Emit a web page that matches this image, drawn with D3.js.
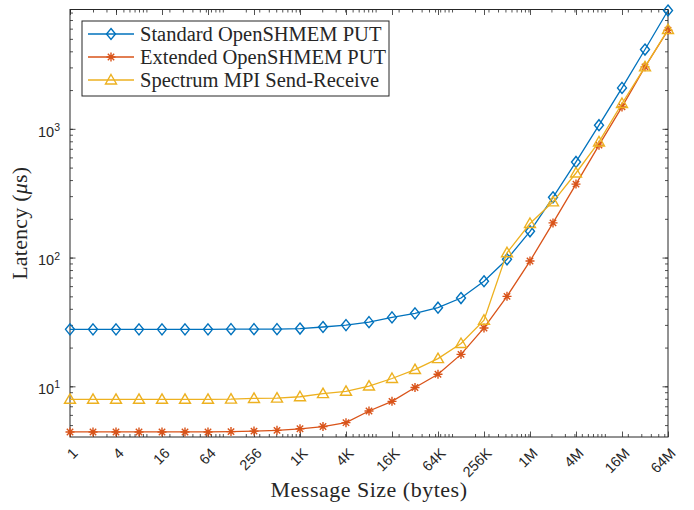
<!DOCTYPE html>
<html>
<head>
<meta charset="utf-8">
<script src="https://cdn.jsdelivr.net/npm/d3@7"></script>
<style>
  body { margin: 0; background: #fff; }
  .tick text { font-family: "Liberation Sans", Arial, sans-serif; font-size: 14.5px; fill: #262626; }
</style>
</head>
<body>
<div class="chart"></div>
<script>
  // Message sizes (bytes) and measured latencies (microseconds)
  const sizes = [1, 2, 4, 8, 16, 32, 64, 128, 256, 512, 1024, 2048, 4096, 8192, 16384,
    32768, 65536, 131072, 262144, 524288, 1048576, 2097152, 4194304, 8388608,
    16777216, 33554432, 67108864];
  const standardPut = [27.7, 27.7, 27.7, 27.7, 27.7, 27.7, 27.7, 27.8, 27.8, 27.8, 28.1,
    28.9, 29.9, 31.5, 34.3, 36.9, 40.8, 48.5, 65.5, 97, 160, 294, 553, 1067, 2080, 4130, 8300];
  const extendedPut = [4.42, 4.42, 4.42, 4.42, 4.42, 4.42, 4.42, 4.45, 4.49, 4.55, 4.68,
    4.87, 5.22, 6.43, 7.64, 9.8, 12.4, 17.7, 28.4, 50, 94, 186, 372, 747, 1480, 3030, 5830];
  const spectrumMpi = [7.93, 7.93, 7.93, 7.93, 7.93, 7.93, 7.93, 7.95, 8.05, 8.1, 8.3,
    8.77, 9.15, 10.05, 11.5, 13.5, 16.4, 21.5, 32.6, 109, 184, 271, 454, 791, 1573, 3030, 5900];
  const seriesNames = ['Standard OpenSHMEM PUT', 'Extended OpenSHMEM PUT', 'Spectrum MPI Send-Receive'];
  const seriesColors = ['#0072BD', '#D95319', '#EDB120'];
  const seriesMarkers = ['diamond', 'asterisk', 'triangle'];

  const xTickValues = [1, 4, 16, 64, 256, 1024, 4096, 16384, 65536, 262144, 1048576,
    4194304, 16777216, 67108864];
  const xTickLabels = ['1', '4', '16', '64', '256', '1K', '4K', '16K', '64K', '256K', '1M',
    '4M', '16M', '64M'];
  const yTickValues = [10, 100, 1000];
  const yTickExponents = ['1', '2', '3'];
  const yDomain = [4.04, 8450];

  const width = 694;
  const height = 510;
  const plot = {left: 70, right: 668, top: 9.5, bottom: 437};
  const axisColor = '#262626';
  const serifFont = '"Liberation Serif", "DejaVu Serif", serif';

  const svg = d3.select('.chart').append('svg')
      .attr('width', width)
      .attr('height', height);

  const x = d3.scaleLog().base(2)
      .domain([sizes[0], sizes[sizes.length - 1]])
      .range([plot.left, plot.right]);
  const y = d3.scaleLog()
      .domain(yDomain)
      .range([plot.bottom, plot.top]);

  // minor ticks sit on the base-10 grid like MATLAB does
  function minorTicks(lo, hi) {
    const out = [];
    for (let k = 0; k <= 8; k++) {
      for (let d = 1; d <= 9; d++) {
        const v = d * Math.pow(10, k);
        if (v >= lo && v <= hi) out.push(v);
      }
    }
    return out;
  }
  const xMinor = minorTicks(x.domain()[0], x.domain()[1]);
  const yMinor = minorTicks(y.domain()[0], y.domain()[1]);

  const major = 5.5;
  const minor = 3;

  function noDomain(g) { g.select('.domain').remove(); }

  // bottom + top
  svg.append('g').attr('transform', `translate(0,${plot.bottom})`)
      .call(d3.axisBottom(x).tickValues(xMinor).tickSize(-minor).tickFormat(''))
      .call(noDomain);
  svg.append('g').attr('transform', `translate(0,${plot.top})`)
      .call(d3.axisTop(x).tickValues(xMinor).tickSize(-minor).tickFormat(''))
      .call(noDomain);
  svg.append('g').attr('transform', `translate(0,${plot.top})`)
      .call(d3.axisTop(x).tickValues(xTickValues).tickSize(-major).tickFormat(''))
      .call(noDomain);

  const xAxis = svg.append('g').attr('transform', `translate(0,${plot.bottom})`)
      .call(d3.axisBottom(x).tickValues(xTickValues).tickSize(-major)
        .tickFormat((d, i) => xTickLabels[i]))
      .call(noDomain);
  xAxis.selectAll('.tick text')
      .attr('y', 0)
      .attr('dy', '0.35em')
      .attr('text-anchor', 'end')
      .attr('transform', 'translate(4.5,13.5) rotate(-45)');

  // left + right
  svg.append('g').attr('transform', `translate(${plot.left},0)`)
      .call(d3.axisLeft(y).tickValues(yMinor).tickSize(-minor).tickFormat(''))
      .call(noDomain);
  svg.append('g').attr('transform', `translate(${plot.right},0)`)
      .call(d3.axisRight(y).tickValues(yMinor).tickSize(-minor).tickFormat(''))
      .call(noDomain);
  svg.append('g').attr('transform', `translate(${plot.right},0)`)
      .call(d3.axisRight(y).tickValues(yTickValues).tickSize(-major).tickFormat(''))
      .call(noDomain);

  const yAxis = svg.append('g').attr('transform', `translate(${plot.left},0)`)
      .call(d3.axisLeft(y).tickValues(yTickValues).tickSize(-major).tickPadding(10))
      .call(noDomain);
  yAxis.selectAll('.tick text').each(function(d, i) {
    const t = d3.select(this).text(null).attr('dy', '0.5em');
    t.append('tspan').text('10');
    t.append('tspan').attr('dy', '-0.55em').style('font-size', '10.5px').text(yTickExponents[i]);
  });

  svg.selectAll('.tick line').attr('stroke', axisColor).attr('stroke-width', 0.8);

  // frame
  svg.append('rect')
      .attr('x', plot.left).attr('y', plot.top)
      .attr('width', plot.right - plot.left).attr('height', plot.bottom - plot.top)
      .attr('fill', 'none').attr('stroke', axisColor).attr('stroke-width', 1);

  // markers
  function markerPath(type) {
    if (type === 'diamond') return 'M0,-5.5L4.5,0L0,5.5L-4.5,0Z';
    if (type === 'triangle') return 'M0,-5.5L5.5,4L-5.5,4Z';
    return 'M0,-4.5V4.5M-4.5,0H4.5M-3.2,-3.2L3.2,3.2M-3.2,3.2L3.2,-3.2';
  }

  const series = [standardPut, extendedPut, spectrumMpi];
  const line = d3.line()
      .x((d, i) => x(sizes[i]))
      .y(d => y(d));

  series.forEach((values, s) => {
    const g = svg.append('g');
    g.append('path')
        .attr('d', line(values))
        .attr('fill', 'none')
        .attr('stroke', seriesColors[s])
        .attr('stroke-width', 1.3);
    g.selectAll('.mark')
      .data(values)
      .enter().append('path')
        .attr('class', 'mark')
        .attr('transform', (d, i) => `translate(${x(sizes[i])},${y(d)})`)
        .attr('d', markerPath(seriesMarkers[s]))
        .attr('fill', 'none')
        .attr('stroke', seriesColors[s])
        .attr('stroke-width', 1.4);
  });

  // legend
  const legend = svg.append('g');
  legend.append('rect')
      .attr('x', 82).attr('y', 21).attr('width', 307).attr('height', 75)
      .attr('fill', '#fff').attr('stroke', axisColor).attr('stroke-width', 1);
  seriesNames.forEach((name, s) => {
    const cy = 34 + s * 23;
    legend.append('line')
        .attr('x1', 88).attr('x2', 134).attr('y1', cy).attr('y2', cy)
        .attr('stroke', seriesColors[s]).attr('stroke-width', 1.3);
    legend.append('path')
        .attr('transform', `translate(111,${cy})`)
        .attr('d', markerPath(seriesMarkers[s]))
        .attr('fill', 'none').attr('stroke', seriesColors[s]).attr('stroke-width', 1.4);
    legend.append('text')
        .attr('x', 140).attr('y', cy + 6.5)
        .attr('font-family', serifFont)
        .attr('font-size', 20.5)
        .attr('fill', axisColor)
        .text(name);
  });

  // axis titles
  svg.append('text')
      .attr('x', (plot.left + plot.right) / 2).attr('y', 497)
      .attr('text-anchor', 'middle')
      .attr('font-family', serifFont)
      .attr('font-size', 22)
      .attr('letter-spacing', 0.5)
      .attr('fill', axisColor)
      .text('Message Size (bytes)');

  const yTitle = svg.append('text')
      .attr('transform', `translate(27,${(plot.top + plot.bottom) / 2}) rotate(-90)`)
      .attr('text-anchor', 'middle')
      .attr('font-family', serifFont)
      .attr('font-size', 22)
      .attr('letter-spacing', 0.2)
      .attr('fill', axisColor);
  yTitle.append('tspan').text('Latency (');
  yTitle.append('tspan').attr('font-style', 'italic').text('\u03bc');
  yTitle.append('tspan').text('s)');
</script>
</body>
</html>
